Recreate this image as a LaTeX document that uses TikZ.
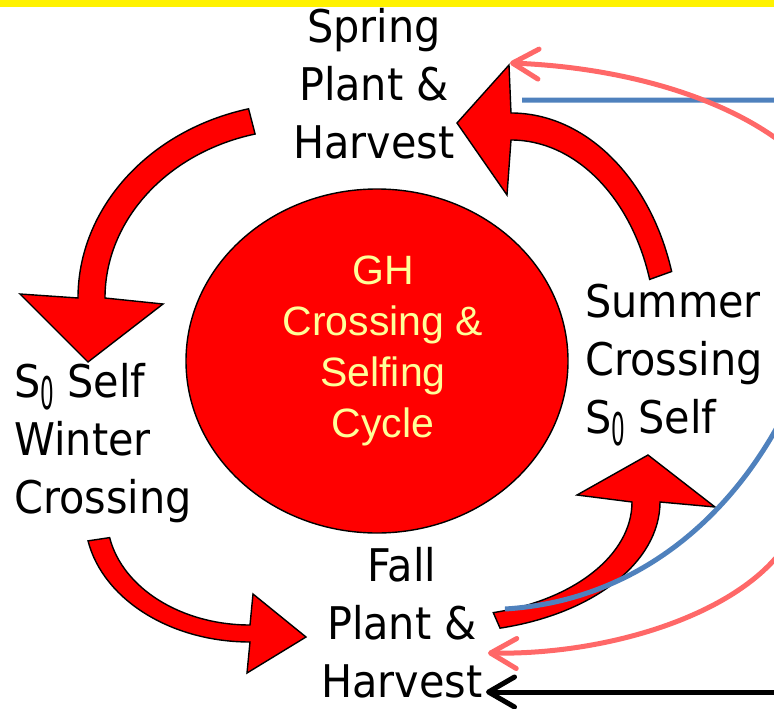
\documentclass[tikz,border=0pt]{standalone}
\usepackage{fontspec}
\setmainfont{DejaVu Sans}[FakeStretch=0.92]
\newfontfamily\hubfont{Liberation Sans}
\usetikzlibrary{arrows.meta,shapes.geometric}
\definecolor{linkblue}{RGB}{79,129,189}
\definecolor{linkpink}{RGB}{255,104,104}
\definecolor{hubyellow}{RGB}{255,255,153}
\tikzset{
  bigarrow/.style={fill=red, draw=black, line width=1.4pt, line join=miter},
  hubS/.style    ={ellipse, fill=red, draw=black, line width=1.4pt, inner sep=0pt},
  season/.style  ={font=\fontsize{45}{58}\selectfont, inner sep=0pt},
  hubtext/.style ={font=\hubfont\fontsize{41}{50.7}\selectfont, text=hubyellow, align=center, inner sep=0pt},
  linkS/.style   ={draw=#1, line width=5pt},
}
\newcommand{\Szero}{S\raisebox{-12pt}{\scalebox{0.52}[1]{0}}}

\begin{document}
\begin{tikzpicture}[x=1pt, y=-1pt, >={Straight Barb[length=26pt,width=30pt,round]}]
  \useasboundingbox (0,0) rectangle (774,709);
  \clip (0,0) rectangle (774,709);
  % hub
  \node[hubS, minimum width=382pt, minimum height=344pt] (hub) at (377,361) {};
  \node[hubtext, anchor=base] (hubText) at (383,437) {GH\\Crossing \&\\Selfing\\Cycle};
  % seasons (anchor is the last baseline)
  \node[season, align=center, anchor=base] (spring) at (374,158) {Spring\\Plant \&\\Harvest};
  \node[season, align=left, anchor=base west] (winter) at (14,513) {\Szero{} Self\\Winter\\Crossing};
  \node[season, align=left, anchor=base west] (summer) at (585,433) {Summer\\Crossing\\\Szero{} Self};
  \node[season, align=center, anchor=base] (fall) at (402,697) {Fall\\Plant \&\\Harvest};
  % curved block arrows
  \filldraw[bigarrow] (303,298) ++(256:225 and 195) arc[start angle=256, end angle=180, x radius=225, y radius=195]
    -- (20,294) -- (88,362) -- (163,304) -- (105,298) arc[start angle=180, end angle=256, x radius=198, y radius=169] -- cycle;
  \filldraw[bigarrow] (250,517) ++(169:165 and 125) arc[start angle=169, end angle=90, x radius=165, y radius=125]
    -- (247,673) -- (306,637) -- (253,594) -- (250,625) arc[start angle=90, end angle=169, x radius=143, y radius=108] -- cycle;
  \filldraw[bigarrow] (449,502) ++(76:211 and 130) arc[start angle=76, end angle=0, x radius=211, y radius=130]
    -- (715,507) -- (648,455) -- (577,495) -- (632,502) arc[start angle=0, end angle=76, x radius=183, y radius=114] -- cycle;
  \filldraw[bigarrow] (511,337) ++(-17:168 and 224) arc[start angle=-17, end angle=-90, x radius=168, y radius=224]
    -- (509,65) -- (457,123) -- (507,195) -- (511,140) arc[start angle=-90, end angle=-17, x radius=145, y radius=197] -- cycle;
  % links leaving the slide
  \coordinate (blueFall) at (505,609);
  \coordinate (blueSpring) at (522,100);
  \draw[linkS=linkblue] (blueFall) .. controls (650,600) and (750,500) .. (800,380)
    .. controls (850,250) and (850,100) .. (790,100) -- (blueSpring);
  \coordinate (pinkSpring) at (510,63);
  \coordinate (pinkFall) at (488,653);
  \draw[linkS=linkpink, <->] (pinkSpring) .. controls (640,68) and (765,108) .. (820,180)
    .. controls (870,250) and (850,480) .. (774,560) .. controls (720,620) and (600,655) .. (pinkFall);
  \coordinate (blackFall) at (486,692);
  \draw[linkS=black, ->] (800,692) -- (blackFall);
  % top band
  \fill[yellow] (0,0) rectangle (774,7.5);
\end{tikzpicture}
\end{document}
